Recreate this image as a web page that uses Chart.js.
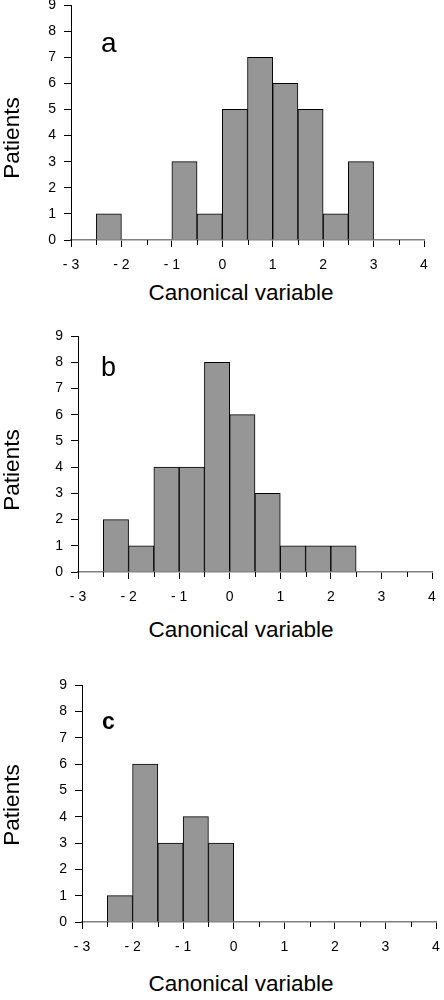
<!DOCTYPE html>
<html>
<head>
<meta charset="utf-8">
<script src="https://cdn.jsdelivr.net/npm/chart.js@4"></script>
<style>
  body { margin: 0; background: #fff; width: 444px; height: 1000px; position: relative; overflow: hidden; }
  canvas { position: absolute; left: 0; }
  .txt { position: absolute; font-family: "Liberation Sans", Arial, sans-serif; color: #000; line-height: 1; white-space: nowrap; }
  .ytitle { font-size: 22.5px; transform: translate(-50%, -50%) rotate(-90deg); }
  .xtitle { font-size: 22.5px; transform: translateX(-50%); }
</style>
</head>
<body>
<canvas id="chartA" width="444" height="280" style="top:0px"></canvas>
<canvas id="chartB" width="444" height="280" style="top:326px"></canvas>
<canvas id="chartC" width="444" height="285" style="top:675px"></canvas>

<div class="txt" style="left:101px; top:29px; font-size:28px">a</div>
<div class="txt" style="left:101px; top:354px; font-size:27px">b</div>
<div class="txt" style="left:102px; top:710px; font-size:23px; font-weight:bold">c</div>

<div class="txt ytitle" style="left:12px; top:138px">Patients</div>
<div class="txt ytitle" style="left:12px; top:470px">Patients</div>
<div class="txt ytitle" style="left:12px; top:805px">Patients</div>

<div class="txt xtitle" style="left:241px; top:282px">Canonical variable</div>
<div class="txt xtitle" style="left:241px; top:619px">Canonical variable</div>
<div class="txt xtitle" style="left:241px; top:973px">Canonical variable</div>

<script>
// bin centres (bins are 0.5 wide, from -3 to 4)
const binCenters = [-2.75, -2.25, -1.75, -1.25, -0.75, -0.25, 0.25, 0.75, 1.25, 1.75, 2.25, 2.75, 3.25, 3.75];
const countsA = [0, 1, 0, 0, 3, 1, 5, 7, 6, 5, 1, 3, 0, 0];
const countsB = [0, 2, 1, 4, 4, 8, 6, 3, 1, 1, 1, 0, 0, 0];
const countsC = [0, 1, 6, 3, 4, 3, 0, 0, 0, 0, 0, 0, 0, 0];
const xTickLabels = { "-3": "- 3", "-2": "- 2", "-1": "- 1", "0": "0", "1": "1", "2": "2", "3": "3", "4": "4" };

const FONT = "'Liberation Sans', Arial, sans-serif";

// short ticks at the half units
const minorTicks = {
  id: "minorTicks",
  afterDraw(chart) {
    const xs = chart.scales.x;
    const ctx = chart.ctx;
    ctx.save();
    ctx.strokeStyle = "#000";
    ctx.lineWidth = 1;
    xs.ticks.forEach((t) => {
      if (Number.isInteger(t.value)) return;
      const px = Math.round(xs.getPixelForValue(t.value)) + 0.5;
      ctx.beginPath();
      ctx.moveTo(px, xs.top);
      ctx.lineTo(px, xs.top + 5);
      ctx.stroke();
    });
    ctx.restore();
  },
};

function makeHist(id, counts, area) {
  // area: chart area inside the canvas {left, right, top, bottom}, canvas height h
  const data = binCenters.map((x, i) => ({ x: x, y: counts[i] > 0 ? counts[i] : null }));
  new Chart(document.getElementById(id), {
    type: "bar",
    data: {
      datasets: [
        {
          data: data,
          backgroundColor: "#969696",
          borderColor: "#000",
          borderWidth: 1,
          barPercentage: 1,
          categoryPercentage: 1,
        },
      ],
    },
    options: {
      responsive: false,
      animation: false,
      events: [],
      layout: { padding: { left: 0, top: area.top, right: 444 - area.right, bottom: 0 } },
      plugins: { legend: { display: false }, tooltip: { enabled: false } },
      scales: {
        x: {
          type: "linear",
          min: -3,
          max: 4,
          offset: false,
          grid: {
            offset: false,
            drawOnChartArea: false,
            tickLength: 7,
            tickWidth: 1,
            tickColor: (c) => (Number.isInteger(c.tick && c.tick.value) ? "#000" : "rgba(0,0,0,0)"),
          },
          border: { color: "#808080", width: 1.5 },
          ticks: {
            stepSize: 0.5,
            autoSkip: false,
            maxRotation: 0,
            padding: 10,
            color: "#000",
            font: { family: FONT, size: 14 },
            callback: (v) => (Number.isInteger(v) ? xTickLabels[String(v)] : ""),
          },
          afterFit: (s) => {
            s.height = area.h - area.bottom;
            s.paddingLeft = 0;
            s.paddingRight = 0;
          },
        },
        y: {
          min: 0,
          max: 9,
          grid: { drawOnChartArea: false, tickLength: 7, tickColor: "#000" },
          border: { color: "#000", width: 1 },
          ticks: {
            stepSize: 1,
            padding: 8,
            color: "#000",
            font: { family: FONT, size: 14 },
          },
          afterFit: (s) => {
            s.width = area.left;
            s.paddingTop = 0;
            s.paddingBottom = 0;
          },
        },
      },
    },
    plugins: [minorTicks],
  });
}

makeHist("chartA", countsA, { left: 71, right: 424, top: 5, bottom: 240, h: 280 });
makeHist("chartB", countsB, { left: 78, right: 432, top: 10, bottom: 246, h: 280 });
makeHist("chartC", countsC, { left: 82, right: 436, top: 10, bottom: 247, h: 285 });
</script>
</body>
</html>
